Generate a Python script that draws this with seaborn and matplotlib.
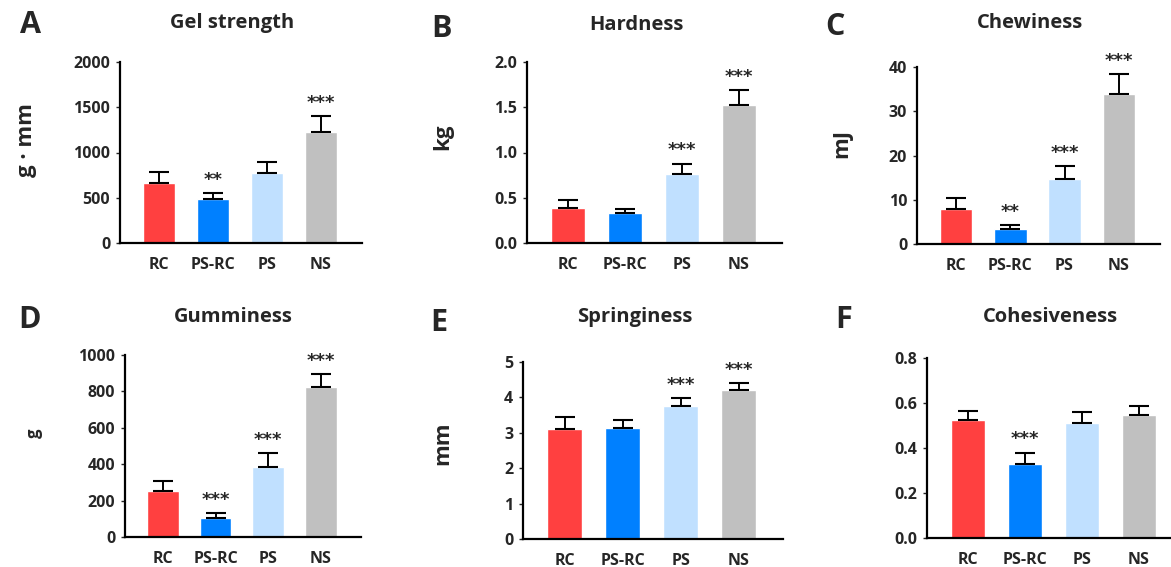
import numpy as np
import pandas as pd
import matplotlib
matplotlib.use("Agg")
import matplotlib.pyplot as plt
import seaborn as sns

# ===============================
# Data
# ===============================
groups = ["RC", "PS-RC", "PS", "NS"]
colors = ["#FF4040", "#0080FF", "#C0E0FF", "#C0C0C0"]

gel_mean = [665, 483, 773, 1223]
gel_sd = [116, 66, 119, 180]
gel_sig = ["", "**", "", "***"]

hard_mean = [0.39, 0.326, 0.758, 1.52]
hard_sd = [0.09, 0.05, 0.12, 0.17]
hard_sig = ["", "", "***", "***"]

chew_mean = [7.8, 3.3, 14.6, 33.9]
chew_sd = [2.7, 0.9, 3.0, 4.5]
chew_sig = ["", "**", "***", "***"]

gum_mean = [252, 102, 387, 823]
gum_sd = [58, 31, 74, 74]
gum_sig = ["", "***", "***", "***"]

spring_mean = [3.10, 3.13, 3.76, 4.20]
spring_sd = [0.35, 0.22, 0.21, 0.20]
spring_sig = ["", "", "***", "***"]

coh_mean = [0.524, 0.328, 0.513, 0.545]
coh_sd = [0.040, 0.052, 0.047, 0.043]
coh_sig = ["", "***", "", ""]

sns.set_style("white")
plt.rcParams["font.family"] = ["Open Sans", "DejaVu Sans"]
plt.rcParams["font.weight"] = "bold"

W, H = 1171, 567
fig = plt.figure(figsize=(W / 100, H / 100), dpi=100)

# ===============================
# Layout of each panel (pixels)
# ===============================
panels = [
    ("A", "Gel strength", "g · mm", 16, gel_mean, gel_sd, gel_sig, 2000, [0, 500, 1000, 1500, 2000], "{:.0f}",
     120, 362, 62, 243, (20, 25), 232, 23, (37, 140)),
    ("B", "Hardness", "kg", 16, hard_mean, hard_sd, hard_sig, 2.0, [0, 0.5, 1.0, 1.5, 2.0], "{:.1f}",
     527, 782, 62, 243, (431, 29), 636, 25, (453, 137)),
    ("C", "Chewiness", "mJ", 16, chew_mean, chew_sd, chew_sig, 40, [0, 10, 20, 30, 40], "{:.0f}",
     917, 1160, 67, 244, (825, 27), 1030, 23, (852, 143)),
    ("D", "Gumminess", "g", 12, gum_mean, gum_sd, gum_sig, 1000, [0, 200, 400, 600, 800, 1000], "{:.0f}",
     125, 361, 355, 537, (18, 320), 233, 317, (43, 433)),
    ("E", "Springiness", "mm", 16, spring_mean, spring_sd, spring_sig, 5, [0, 1, 2, 3, 4, 5], "{:.0f}",
     523, 783, 362, 539, (430, 323), 635, 317, (453, 443)),
    ("F", "Cohesiveness", "", 16, coh_mean, coh_sd, coh_sig, 0.8, [0, 0.2, 0.4, 0.6, 0.8], "{:.1f}",
     927, 1182, 358, 538, (835, 320), 1050, 317, (453, 443)),
]

for (letter, title, ylabel, ylsize, means, sd, sig, ymax, yticks, fmt,
     left, right, top, bottom, lxy, tx, ty, yl) in panels:
    ax = fig.add_axes([left / W, 1 - bottom / H, (right - left) / W, (bottom - top) / H])
    df = pd.DataFrame({"group": groups, "value": means, "sd": sd})
    sns.barplot(data=df, x="group", y="value", hue="group", palette=colors,
                saturation=1, width=0.6, legend=False, ax=ax, errorbar=None)
    # upper error bars only
    ax.errorbar(np.arange(len(groups)), df["value"],
                yerr=[np.zeros(len(groups)), df["sd"]],
                fmt="none", ecolor="black", elinewidth=1.4, capsize=7, capthick=1.5)
    for i, s in enumerate(sig):
        if s:
            ax.annotate(s, (i, means[i] + sd[i]), xytext=(0, 3), textcoords="offset points",
                        ha="center", va="bottom", fontsize=13, fontweight="bold",
                        family="DejaVu Sans")
    ax.set_xlim(-0.72, 3.76)
    ax.set_ylim(0, ymax)
    ax.set_yticks(yticks)
    ax.set_yticklabels([fmt.format(t) for t in yticks], fontsize=11.5, fontweight="bold")
    ax.set_xticks(range(len(groups)))
    ax.set_xticklabels(groups, fontsize=11.5, fontweight="bold")
    ax.set_xlabel("")
    ax.set_ylabel(ylabel, fontsize=ylsize, fontweight="bold")
    ax.yaxis.set_label_coords((yl[0] - left) / (right - left), (bottom - yl[1]) / (bottom - top))
    ax.tick_params(axis="y", length=3, width=1, direction="out", left=True, pad=4)
    ax.tick_params(axis="x", length=0, pad=10)
    for side in ["top", "right"]:
        ax.spines[side].set_visible(False)
    for side in ["left", "bottom"]:
        ax.spines[side].set_color("black")
        ax.spines[side].set_linewidth(1.6)
    ax.set_facecolor("none")
    fig.text(lxy[0] / W, 1 - lxy[1] / H, letter, fontsize=22, fontweight="bold",
             ha="left", va="center")
    fig.text(tx / W, 1 - ty / H, title, fontsize=14.5, fontweight="bold",
             ha="center", va="center")

fig.savefig("out.png", dpi=100)
